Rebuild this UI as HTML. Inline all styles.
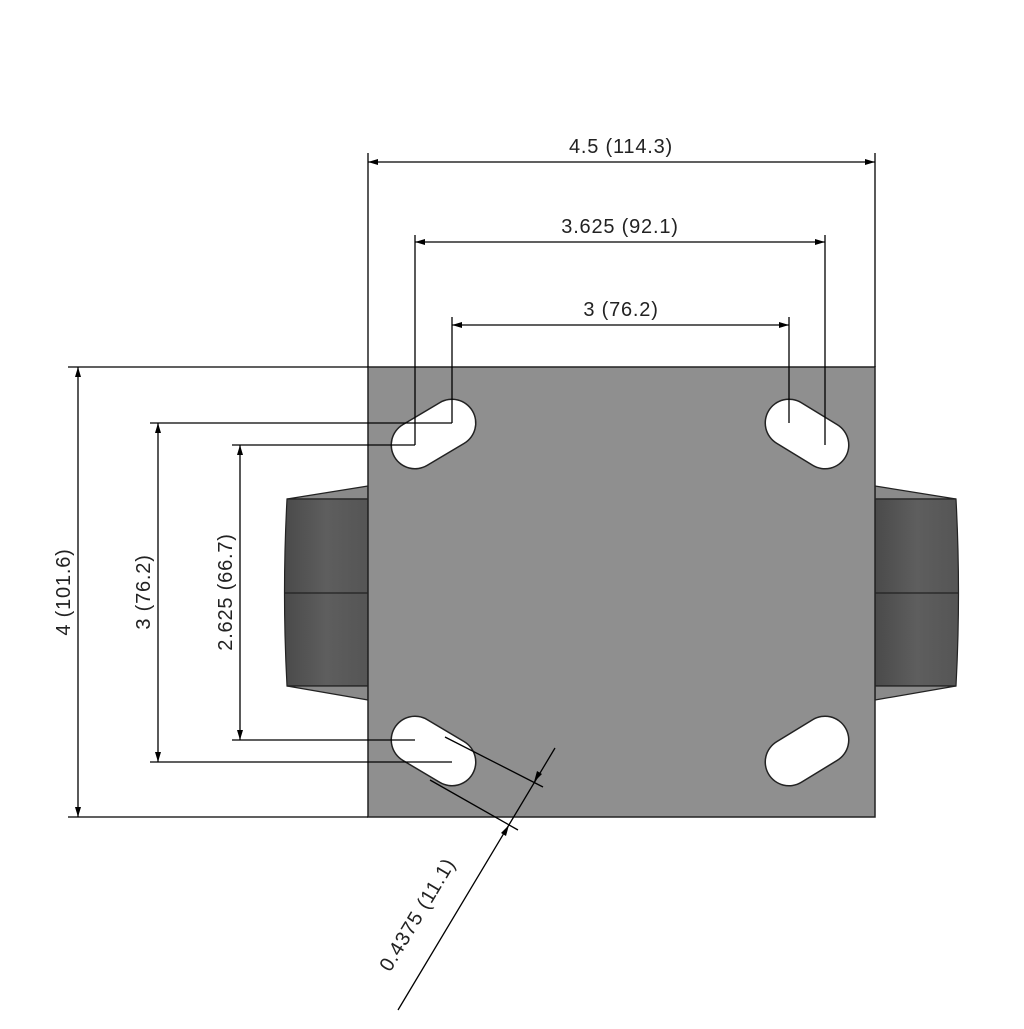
<!DOCTYPE html>
<html><head><style>body{margin:0;background:#fff}</style></head><body>
<svg width="1024" height="1024" viewBox="0 0 1024 1024" xmlns="http://www.w3.org/2000/svg" font-family="Liberation Sans, sans-serif">
<defs>
<linearGradient id="w" x1="0" x2="1"><stop offset="0" stop-color="#4a4a4a"/><stop offset="0.5" stop-color="#5e5e5e"/><stop offset="1" stop-color="#555"/></linearGradient>
</defs>
<!-- wheels -->
<g stroke="#222" stroke-width="1.2">
<path d="M368,486 L287,499 L368,499z" fill="#8a8a8a"/>
<path d="M287,499 Q282,593 287,686 L368,686 L368,499z" fill="url(#w)"/>
<path d="M287,686 L368,700 L368,686z" fill="#8a8a8a"/>
<line x1="284" y1="593" x2="368" y2="593"/>
<path d="M875,486 L956,499 L875,499z" fill="#8a8a8a"/>
<path d="M956,499 Q961,593 956,686 L875,686 L875,499z" fill="url(#w)"/>
<path d="M956,686 L875,700 L875,686z" fill="#8a8a8a"/>
<line x1="875" y1="593" x2="959" y2="593"/>
</g>
<rect x="368" y="367" width="507" height="450" fill="#8f8f8f" stroke="#222" stroke-width="1.5"/>
<g stroke-linecap="round">
<line x1="415" y1="445" x2="452" y2="423" stroke-width="49" stroke="#222"/>
<line x1="415" y1="445" x2="452" y2="423" stroke-width="46" stroke="#fff"/>
<line x1="789" y1="423" x2="825" y2="445" stroke-width="49" stroke="#222"/>
<line x1="789" y1="423" x2="825" y2="445" stroke-width="46" stroke="#fff"/>
<line x1="415" y1="740" x2="452" y2="762" stroke-width="49" stroke="#222"/>
<line x1="415" y1="740" x2="452" y2="762" stroke-width="46" stroke="#fff"/>
<line x1="789" y1="762" x2="825" y2="740" stroke-width="49" stroke="#222"/>
<line x1="789" y1="762" x2="825" y2="740" stroke-width="46" stroke="#fff"/>
</g>
<g stroke="#000" stroke-width="1.3" fill="none">
<line x1="368" y1="153" x2="368" y2="367"/><line x1="875" y1="153" x2="875" y2="367"/>
<line x1="368" y1="162" x2="875" y2="162"/>
<line x1="415" y1="235" x2="415" y2="445"/><line x1="825" y1="235" x2="825" y2="445"/>
<line x1="415" y1="242" x2="825" y2="242"/>
<line x1="452" y1="317" x2="452" y2="423"/><line x1="789" y1="317" x2="789" y2="423"/>
<line x1="452" y1="325" x2="789" y2="325"/>
<line x1="68" y1="367" x2="368" y2="367"/><line x1="68" y1="817" x2="368" y2="817"/>
<line x1="78" y1="367" x2="78" y2="817"/>
<line x1="150" y1="423" x2="452" y2="423"/><line x1="150" y1="762" x2="452" y2="762"/>
<line x1="158" y1="423" x2="158" y2="762"/>
<line x1="232" y1="445" x2="415" y2="445"/><line x1="232" y1="740" x2="415" y2="740"/>
<line x1="240" y1="445" x2="240" y2="740"/>
<line x1="445" y1="737" x2="543" y2="787"/>
<line x1="430" y1="780" x2="518" y2="830"/>
<line x1="555" y1="748" x2="398" y2="1010"/>
</g>
<g fill="#000">
<path d="M368,162 l10,-3 v6z"/><path d="M875,162 l-10,-3 v6z"/>
<path d="M415,242 l10,-3 v6z"/><path d="M825,242 l-10,-3 v6z"/>
<path d="M452,325 l10,-3 v6z"/><path d="M789,325 l-10,-3 v6z"/>
<path d="M78,367 l-3,10 h6z"/><path d="M78,817 l-3,-10 h6z"/>
<path d="M158,423 l-3,10 h6z"/><path d="M158,762 l-3,-10 h6z"/>
<path d="M240,445 l-3,10 h6z"/><path d="M240,740 l-3,-10 h6z"/>
<path d="M534,782 L537,771 L542,774z"/>
<path d="M509,825 L506,836 L501,833z"/>
</g>
<g font-size="20" letter-spacing="0.8" fill="#222" text-anchor="middle">
<text x="621" y="153">4.5 (114.3)</text>
<text x="620" y="233">3.625 (92.1)</text>
<text x="621" y="316">3 (76.2)</text>
<text transform="translate(70,592) rotate(-90)">4 (101.6)</text>
<text transform="translate(150,592) rotate(-90)">3 (76.2)</text>
<text transform="translate(232,592) rotate(-90)">2.625 (66.7)</text>
<text transform="translate(423,918) rotate(-59)">0.4375 (11.1)</text>
</g>
</svg>
</body></html>
